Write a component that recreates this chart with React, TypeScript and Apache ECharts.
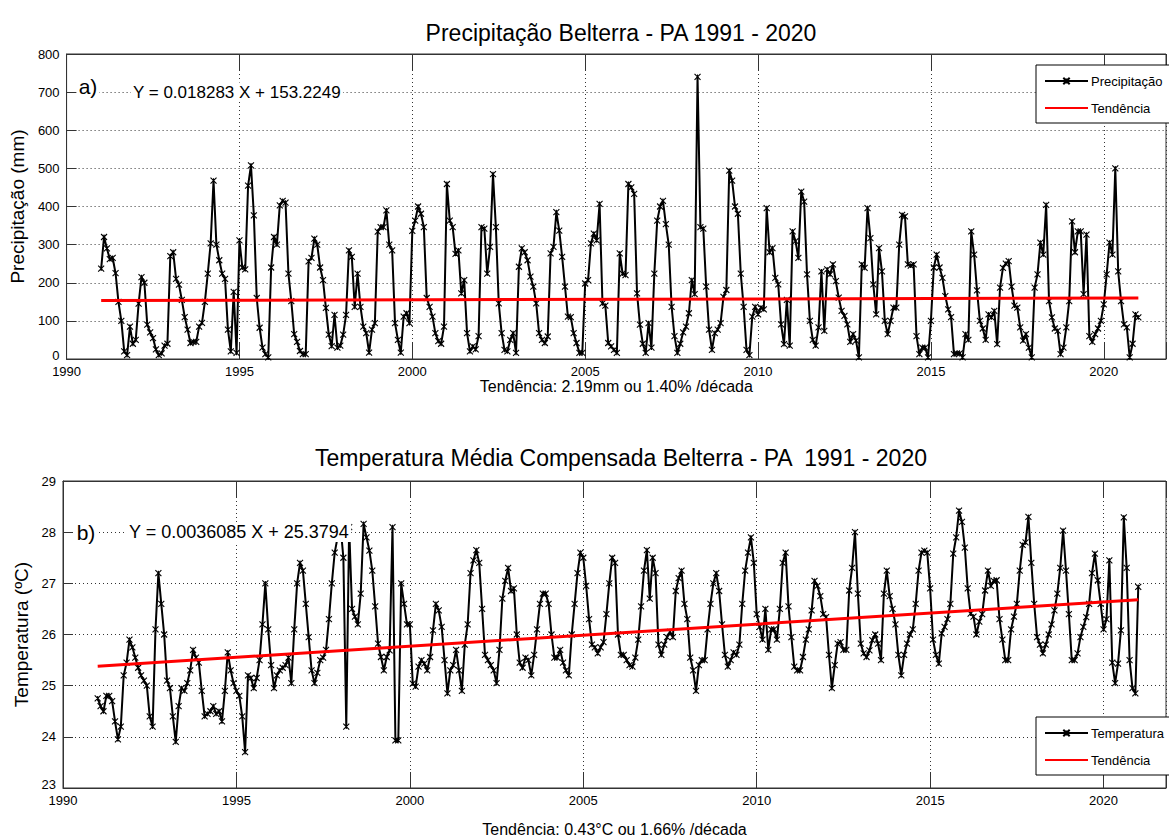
import React, { useEffect, useRef } from 'react';
import * as echarts from 'echarts';

// ---------- DATA ----------
const xTickLabels = [1990, 1995, 2000, 2005, 2010, 2015, 2020];
const firstYear = 1991; // first monthly value = Jan 1991

// Monthly precipitation (mm), Jan 1991 ... Jan 2021
const precip1991to2000 = [
  237, 320, 290, 262, 265, 225, 150, 100, 20, 10, 85, 40,
  50, 145, 215, 200, 90, 70, 55, 25, 10, 15, 35, 40,
  270, 280, 210, 195, 155, 110, 77, 42, 45, 45, 85, 95,
  150, 224, 303, 468, 300, 259, 224, 210, 77, 20, 176, 16,
  311, 240, 235, 455, 508, 377, 160, 82, 30, 13, 4, 240,
  320, 300, 403, 415, 410, 224, 152, 65, 45, 21, 13, 13,
  256, 265, 316, 300, 240, 207, 134, 64, 34, 116, 30, 35,
  64, 116, 285, 268, 137, 224, 137, 85, 68, 17, 77, 94,
  334, 346, 346, 390, 300, 285, 94, 50, 17, 111, 120, 94,
  336, 363, 400, 381, 346, 160, 137, 111, 68, 47, 40, 85,
];
const precip2001to2010 = [
  459, 363, 346, 276, 285, 172, 207, 68, 20, 33, 25, 60,
  346, 342, 224, 294, 485, 346, 146, 68, 24, 20, 50, 68,
  16, 242, 290, 280, 259, 216, 190, 146, 68, 50, 42, 59,
  277, 294, 385, 337, 268, 190, 111, 110, 68, 42, 16, 16,
  198, 207, 303, 329, 311, 407, 146, 140, 42, 33, 24, 16,
  277, 224, 220, 459, 450, 433, 172, 90, 40, 16, 94, 30,
  224, 363, 400, 415, 354, 300, 137, 60, 16, 40, 70, 85,
  120, 207, 170, 740, 346, 342, 190, 77, 24, 68, 77, 94,
  163, 181, 494, 468, 400, 381, 224, 137, 24, 10, 111, 137,
  117, 135, 130, 396, 280, 291, 213, 196, 91, 39, 155, 35,
];
const precip2011to2021 = [
  335, 309, 265, 439, 413, 222, 100, 50, 35, 83, 230, 74,
  235, 222, 248, 204, 161, 126, 113, 91, 45, 65, 48, 4,
  248, 239, 396, 317, 196, 117, 291, 230, 100, 65, 100, 135,
  135, 300, 378, 374, 248, 245, 248, 60, 13, 30, 30, 4,
  100, 240, 274, 240, 213, 165, 130, 110, 13, 15, 15, 4,
  65, 50, 335, 274, 180, 100, 80, 50, 117, 109, 126, 39,
  187, 239, 250, 257, 190, 140, 135, 83, 48, 65, 30, 4,
  187, 222, 305, 274, 404, 152, 109, 80, 74, 13, 30, 83,
  152, 361, 280, 335, 335, 170, 326, 60, 45, 65, 80, 100,
  143, 222, 305, 274, 500, 230, 152, 91, 83, 4, 40, 117,
  109,
];

// Monthly mean compensated temperature (°C), Jan 1991 ... Jan 2021
const temp1991to2000 = [
  24.75, 24.6, 24.5, 24.8, 24.8, 24.7, 24.3, 23.95, 24.2, 25.2, 25.45, 25.9,
  25.75, 25.55, 25.35, 25.2, 25.1, 25.0, 24.4, 24.2, 26.1, 27.2, 26.6, 26.0,
  25.1, 24.95, 24.4, 23.9, 24.6, 24.95, 24.9, 25.05, 25.3, 25.7, 25.55, 25.45,
  24.9, 24.4, 24.45, 24.5, 24.6, 24.45, 24.5, 24.3, 24.9, 25.65, 25.3, 25.05,
  24.9, 24.8, 24.4, 23.7, 25.2, 25.15, 24.95, 25.15, 25.5, 26.2, 27.0, 26.1,
  25.4, 24.95, 25.2, 25.3, 25.35, 25.4, 25.55, 25.05, 26.1, 27.0, 27.4, 27.25,
  26.6, 25.95, 25.3, 25.05, 25.25, 25.5, 25.55, 25.7, 26.3, 27.0, 27.6, 27.9,
  28.13, 27.5, 24.2, 28.1, 26.5, 26.35, 26.2, 26.8, 28.16, 27.9, 27.64, 27.25,
  26.55, 25.82, 25.56, 25.3, 25.56, 25.69, 28.1, 23.93, 23.93, 27.0, 26.6, 26.2,
  26.2, 25.04, 24.98, 25.37, 25.5, 25.43, 25.3, 25.56, 26.08, 26.6, 26.47, 26.15,
];
const temp2001to2010 = [
  25.5, 24.85, 25.3, 25.4, 25.7, 25.3, 24.9, 25.8, 26.2, 27.2, 27.45, 27.65,
  27.4, 26.5, 25.6, 25.5, 25.4, 25.3, 25.05, 25.7, 26.7, 27.05, 27.3, 26.85,
  26.9, 26.0, 25.45, 25.35, 25.55, 25.5, 25.2, 25.6, 26.1, 26.6, 26.8, 26.8,
  26.6, 26.0, 25.55, 25.55, 25.7, 25.45, 25.3, 25.2, 26.0, 26.6, 27.2, 27.6,
  27.5, 26.95, 26.3, 25.8, 25.75, 25.63, 25.75, 25.85, 26.4, 27.0, 27.5, 27.4,
  26.0, 25.6, 25.6, 25.5, 25.4, 25.37, 25.55, 25.9, 26.55, 27.25, 27.65, 26.7,
  27.5, 27.2, 25.8, 25.6, 25.8, 25.95, 26.05, 25.95, 26.85, 27.1, 27.25, 26.6,
  26.3, 25.55, 25.3, 24.9, 25.4, 25.5, 25.5, 26.1, 26.6, 27.0, 27.2, 26.85,
  26.2, 25.6, 25.37, 25.5, 25.65, 25.6, 25.8, 26.6, 27.25, 27.6, 27.9, 27.4,
  26.4, 26.15, 25.9, 26.5, 25.7, 26.1, 26.1, 25.9, 26.5, 27.4, 27.6, 26.55,
];
const temp2011to2021 = [
  25.95, 25.37, 25.3, 25.3, 25.56, 25.9, 26.1, 26.47, 27.05, 26.95, 26.75, 26.4,
  26.34, 25.6, 24.95, 25.4, 25.82, 25.85, 25.7, 25.7, 26.86, 27.3, 28.0, 26.8,
  25.82, 25.63, 25.56, 25.69, 25.89, 26.0, 25.82, 25.5, 26.8, 27.25, 26.75, 26.5,
  26.2, 25.6, 25.2, 25.6, 25.82, 26.0, 26.1, 26.6, 27.25, 27.6, 27.64, 27.6,
  26.9, 25.9, 25.6, 25.43, 26.02, 26.15, 26.3, 26.6, 27.58, 27.9, 28.42, 28.2,
  27.7, 26.9, 26.41, 26.35, 26.0, 26.25, 26.4, 26.86, 27.25, 26.95, 27.05, 27.06,
  26.3, 25.9, 25.5, 25.5, 26.1, 26.35, 26.6, 27.25, 27.75, 27.8, 28.3, 27.4,
  26.6, 25.95, 25.8, 25.63, 25.8, 26.0, 26.2, 26.47, 26.8, 27.3, 28.03, 27.25,
  26.4, 25.5, 25.5, 25.63, 25.95, 26.15, 26.34, 26.6, 27.2, 27.58, 27.06, 26.6,
  26.1, 26.3, 27.45, 25.45, 25.05, 25.43, 26.08, 28.29, 27.3, 25.5, 24.95, 24.85,
  26.93,
];

// Linear trend end points (from the fitted equations shown on the chart)
const trendX = [1991, 2021];
const precipTrend = [153.24, 159.81];
const tempTrend = [25.38, 26.68];

// ---------- BUILD ----------
const FONT = '"Liberation Sans", Arial, Helvetica, sans-serif';
const precipitation = [...precip1991to2000, ...precip2001to2010, ...precip2011to2021];
const temperature = [...temp1991to2000, ...temp2001to2010, ...temp2011to2021];
const toXY = (arr: number[]) => arr.map((v, i) => [firstYear + i / 12, v]);
const trendXY = (arr: number[]) => arr.map((v, i) => [trendX[i], v]);

const X_MARK = 'path://M0,0L10,10M10,0L0,10M5,1L5,9';
const GRID_DOT = { type: [1, 3], color: '#333', width: 1 };

const txt = (text: string, x: number, y: number, size: number, align: string, bg?: string) => ({
  type: 'text',
  x,
  y,
  z: 100,
  style: {
    text,
    fill: '#000',
    font: `${size}px ${FONT}`,
    align,
    textAlign: align,
    verticalAlign: 'middle',
    textVerticalAlign: 'middle',
    backgroundColor: bg,
    padding: bg ? [1, 2, 1, 2] : 0,
  },
});

const xFormatter = (v: number) => (xTickLabels.indexOf(Math.round(v * 1000) / 1000) >= 0 ? String(v) : '');

const makeX = (gridIndex: number, name: string, nameGap: number) => [
  {
    type: 'value',
    gridIndex,
    position: 'bottom',
    min: 1990,
    max: 2021.8,
    interval: 5,
    name,
    nameLocation: 'middle',
    nameGap,
    nameTextStyle: { fontSize: 16, color: '#000', fontFamily: FONT },
    axisLine: { show: true, onZero: false, lineStyle: { color: '#333', width: 1 } },
    axisTick: { show: true, inside: true, length: 16, lineStyle: { color: '#333' } },
    axisLabel: { formatter: xFormatter, fontSize: 13, color: '#000', margin: 6, fontFamily: FONT },
    splitLine: { show: true, lineStyle: GRID_DOT },
  },
  {
    type: 'value',
    gridIndex,
    position: 'top',
    min: 1990,
    max: 2021.8,
    interval: 5,
    axisLine: { show: true, onZero: false, lineStyle: { color: '#333', width: 1 } },
    axisTick: { show: true, inside: true, length: 16, lineStyle: { color: '#333' } },
    axisLabel: { show: false },
    splitLine: { show: false },
  },
];

const makeY = (gridIndex: number, min: number, max: number, interval: number, name: string, nameGap: number) => ({
  type: 'value',
  gridIndex,
  min,
  max,
  interval,
  name,
  nameLocation: 'middle',
  nameGap,
  nameTextStyle: { fontSize: 19, color: '#000', fontFamily: FONT },
  axisLine: { show: true, onZero: false, lineStyle: { color: '#333', width: 1 } },
  axisTick: { show: true, inside: true, length: 10, lineStyle: { color: '#333' } },
  axisLabel: {
    fontSize: 13,
    color: '#000',
    margin: 7,
    fontFamily: FONT,
    formatter: (v: number) => (v === min ? `{lo|${v}}` : String(v)),
    rich: { lo: { fontSize: 13, fontFamily: FONT, color: '#000', padding: [0, 0, 8, 0] } },
  },
  splitLine: { show: true, lineStyle: GRID_DOT },
});

const dataLine = (name: string, xAxisIndex: number, yAxisIndex: number, data: number[][]) => ({
  name,
  type: 'line',
  xAxisIndex,
  yAxisIndex,
  data,
  symbol: X_MARK,
  symbolSize: 6,
  showSymbol: true,
  lineStyle: { color: '#000', width: 2 },
  itemStyle: { color: '#000', borderColor: '#000', borderWidth: 1.1 },
  z: 2,
});

const trendLine = (xAxisIndex: number, yAxisIndex: number, data: number[][]) => ({
  name: 'Tendência',
  type: 'line',
  xAxisIndex,
  yAxisIndex,
  data,
  symbol: 'none',
  lineStyle: { color: '#ff0000', width: 3 },
  itemStyle: { color: '#ff0000', opacity: 0 },
  z: 3,
});

const legendBase = {
  orient: 'vertical',
  left: 1036,
  itemWidth: 43,
  itemHeight: 8,
  itemGap: 13,
  padding: [9, 40, 8, 8],
  borderColor: '#000',
  borderWidth: 1,
  borderRadius: 0,
  backgroundColor: '#fff',
  textStyle: { fontSize: 13, color: '#000', fontFamily: FONT, lineHeight: 14, padding: [0, 0, 0, -2] },
};

const option = {
  animation: false,
  backgroundColor: '#fff',
  textStyle: { fontFamily: FONT },
  grid: [
    { left: 63, top: 54, width: 1106, height: 305, show: true, borderColor: '#333', borderWidth: 1, backgroundColor: 'transparent' },
    { left: 63, top: 481, width: 1106, height: 307, show: true, borderColor: '#333', borderWidth: 1, backgroundColor: 'transparent' },
  ],
  xAxis: [
    ...makeX(0, 'Tendência: 2.19mm ou 1.40% /década', 17),
    ...makeX(1, 'Tendência: 0.43°C ou 1.66% /década', 33),
  ],
  yAxis: [
    makeY(0, 0, 800, 100, 'Precipitação (mm)', 33),
    makeY(1, 23, 29, 1, 'Temperatura (ºC)', 31),
  ],
  legend: [
    { ...legendBase, top: 65, data: ['Precipitação', 'Tendência'] },
    { ...legendBase, top: 717, data: ['Temperatura', 'Tendência'] },
  ],
  series: [
    dataLine('Precipitação', 0, 0, toXY(precipitation)),
    trendLine(0, 0, trendXY(precipTrend)),
    dataLine('Temperatura', 2, 1, toXY(temperature)),
    trendLine(2, 1, trendXY(tempTrend)),
  ],
  graphic: [
    txt('Precipitação Belterra - PA 1991 - 2020', 621, 33, 23, 'center'),
    txt('Temperatura Média Compensada Belterra - PA  1991 - 2020', 621, 458, 23, 'center'),
    txt('a)', 88, 86, 21, 'center', '#fff'),
    txt('Y = 0.018283 X + 153.2249', 131, 92, 17, 'left', '#fff'),
    txt('b)', 86, 532, 21, 'center', '#fff'),
    txt('Y = 0.0036085 X + 25.3794', 127, 532, 18, 'left', '#fff'),
  ],
};

export default function App() {
  const ref = useRef<HTMLDivElement>(null);
  useEffect(() => {
    if (!ref.current) return;
    const chart = echarts.init(ref.current, null, { renderer: 'svg' });
    chart.setOption(option as any);
    return () => chart.dispose();
  }, []);
  return (
    <div
      ref={ref}
      style={{ position: 'fixed', left: 0, top: 0, width: 1169, height: 838, background: '#fff' }}
    />
  );
}
